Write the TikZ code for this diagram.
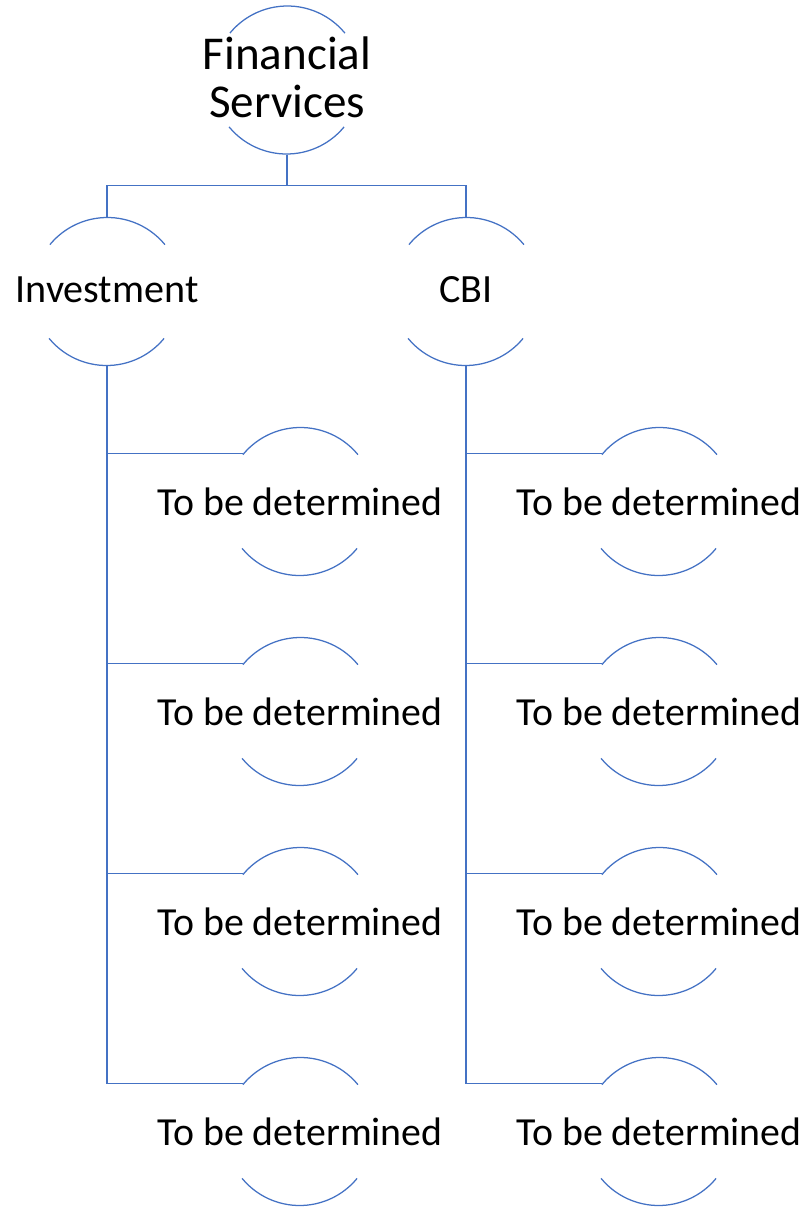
\documentclass[tikz,border=0pt]{standalone}
\usepackage{fontspec}
\setmainfont{Carlito}
\usepackage{xcolor}

\definecolor{ringblue}{RGB}{68,114,196}
\tikzset{
  ring/.style={circle,draw=none,inner sep=0pt,outer sep=0pt,minimum size=3.725cm},
  link/.style={draw=ringblue,line width=0.9pt},
}
\newcommand{\ringarcs}[1]{%
  \draw[link] (#1.39.5) arc[start angle=39.5,end angle=140.5,radius=1.8625cm];
  \draw[link] (#1.219.5) arc[start angle=219.5,end angle=320.5,radius=1.8625cm];}

\begin{document}
\begin{tikzpicture}[x=0.025cm,y=-0.025cm]
		\useasboundingbox (0,0) rectangle (810,1211);
		\node (fs)[ring,label={[font=\fontsize{33.5}{34}\selectfont,align=center,yshift=2pt]center:Financial\\Services}] at (287,80) {};
		\node (inv)[ring,label={[font=\fontsize{28.5}{31}\selectfont,yshift=1pt]center:Investment}] at (107,291.5) {};
		\node (cbi)[ring,label={[font=\fontsize{28.5}{31}\selectfont,yshift=1pt]center:CBI}] at (466,291.5) {};
		\foreach \i/\y in {1/501.5,2/711.5,3/921.5,4/1131.5} {
			\node (tl\i)[ring,label={[font=\fontsize{28.3}{34}\selectfont]center:To be determined}] at (300,\y) {};
			\node (tr\i)[ring,label={[font=\fontsize{28.3}{34}\selectfont]center:To be determined}] at (659,\y) {};
		}
		
		\foreach \n in {fs,inv,cbi,tl1,tl2,tl3,tl4,tr1,tr2,tr3,tr4} {\ringarcs{\n}}
		
		\draw[link] (fs.south) -- ++(0,31) -| (inv.north);
		\draw[link] (fs.south) -- ++(0,31) -| (cbi.north);
		\foreach \i in {1,...,4} {
			\draw[link] (inv.south) |- (tl\i.140.5);
			\draw[link] (cbi.south) |- (tr\i.140.5);
		}
	\end{tikzpicture}
\end{document}
